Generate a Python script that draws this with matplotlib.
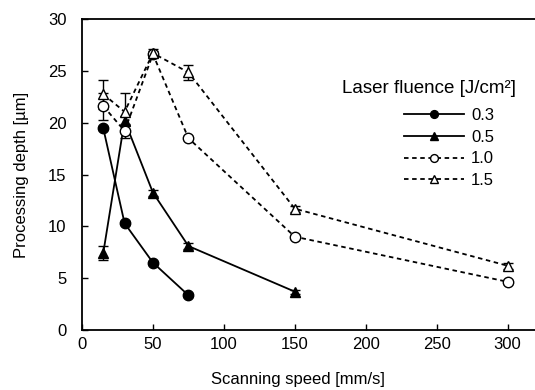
import numpy as np
import matplotlib
matplotlib.use("Agg")
import matplotlib.pyplot as plt

plt.rcParams['font.family'] = ['Liberation Sans', 'DejaVu Sans']
plt.rcParams['font.size'] = 12

# --- datos ---
x_03 = [15, 30, 50, 75]
y_03 = [19.45, 10.3, 6.5, 3.35]
e_03 = [0.2, 0.2, 0.2, 0.2]

x_05 = [15, 30, 50, 75, 150]
y_05 = [7.45, 20.2, 13.25, 8.1, 3.7]
e_05 = [0.7, 0.4, 0.3, 0.3, 0.2]

x_10 = [15, 30, 50, 75, 150, 300]
y_10 = [21.6, 19.2, 26.6, 18.5, 9.0, 4.65]
e_10 = [1.3, 0.7, 0.3, 0.2, 0.2, 0.2]

x_15 = [15, 30, 50, 75, 150, 300]
y_15 = [22.75, 21.05, 26.7, 24.85, 11.7, 6.2]
e_15 = [1.4, 1.85, 0.4, 0.7, 0.3, 0.3]

labels = ["0.3", "0.5", "1.0", "1.5"]

fig = plt.figure(figsize=(5.35, 3.9), dpi=100)
ax = fig.add_axes([0.1533, 0.1538, 0.8486, 0.7975])

series = [
    (x_03, y_03, e_03, 'o', 'k', '-'),
    (x_05, y_05, e_05, '^', 'k', '-'),
    (x_10, y_10, e_10, 'o', 'w', (0, (2.5, 2))),
    (x_15, y_15, e_15, '^', 'w', (0, (2.5, 2))),
]
handles = []
for (xs, ys, es, mk, fc, ls), lab in zip(series, labels):
    ax.errorbar(xs, ys, yerr=es, fmt='none', ecolor='k', elinewidth=1,
                capsize=3.5, capthick=1, zorder=2)
    ln, = ax.plot(xs, ys, color='k', linestyle=ls, linewidth=1.3,
                  marker=mk, markersize=7.5, markerfacecolor=fc,
                  markeredgecolor='k', markeredgewidth=1, label=lab, zorder=3)
    handles.append(ln)

ax.set_xlim(0, 320)
ax.set_ylim(0, 30)
ax.set_xticks([0, 50, 100, 150, 200, 250, 300])
ax.set_yticks([0, 5, 10, 15, 20, 25, 30])
ax.tick_params(direction='in', length=4, width=1, labelsize=12)
ax.tick_params(axis='y', pad=11)
ax.tick_params(axis='x', pad=5)
for s in ax.spines.values():
    s.set_linewidth(1.3)

ax.set_xlabel("Scanning speed [mm/s]", fontsize=12)
ax.xaxis.set_label_coords(0.476, -0.135)
ax.set_ylabel("Processing depth [µm]", fontsize=12, labelpad=14)

ax.text(0.573, 0.775, "Laser fluence [J/cm²]", transform=ax.transAxes,
        fontsize=13.5, ha='left', va='center')
leg = ax.legend(handles=handles, loc='upper left',
                bbox_to_anchor=(0.695, 0.735), frameon=False,
                handlelength=3.6, handletextpad=0.4, labelspacing=0.4,
                markerscale=0.75, fontsize=12, borderaxespad=0)

fig.savefig("out.png", dpi=100)
